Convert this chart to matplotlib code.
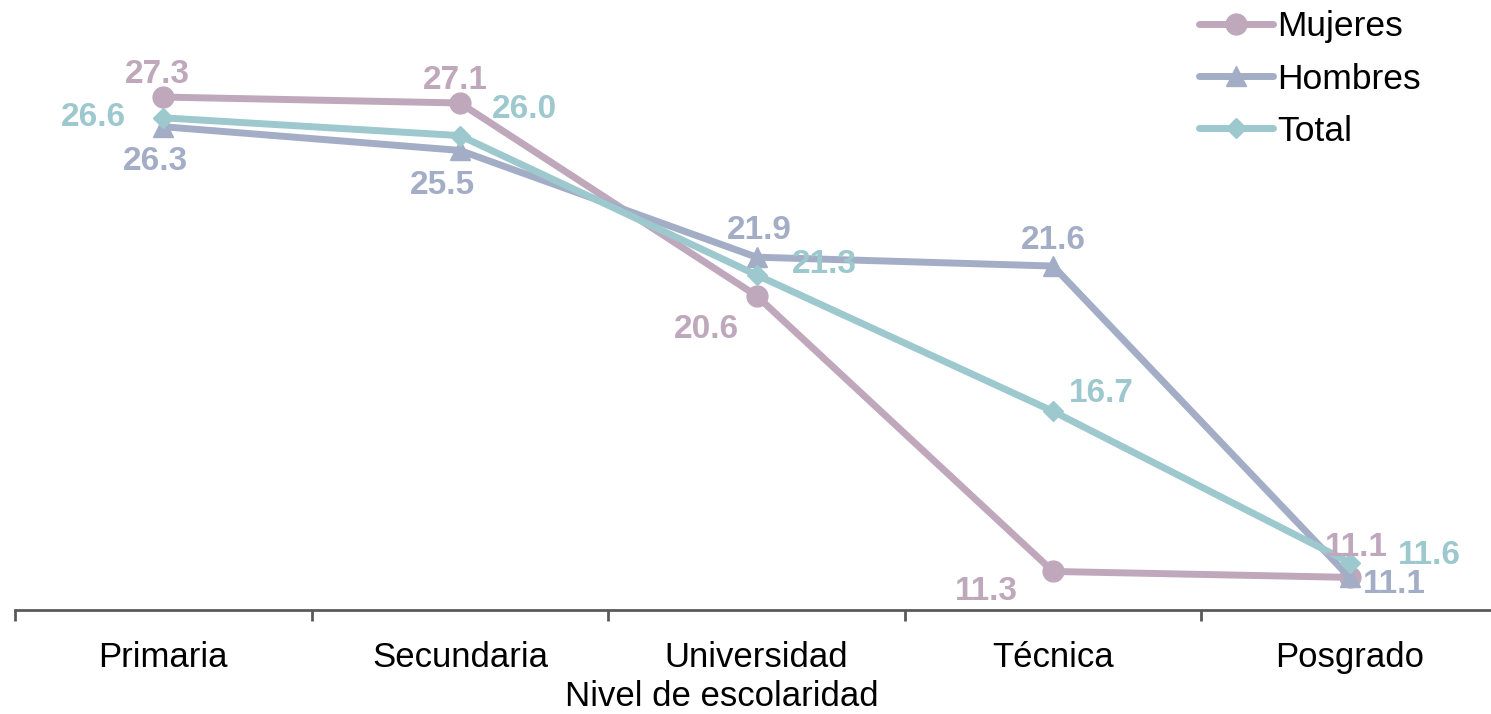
import matplotlib
matplotlib.use('Agg')
import matplotlib.pyplot as plt

plt.rcParams['font.family'] = ['Liberation Sans', 'DejaVu Sans']

niveles = ['Primaria', 'Secundaria', 'Universidad', 'Técnica', 'Posgrado']
mujeres = [27.3, 27.1, 20.6, 11.3, 11.1]
hombres = [26.3, 25.5, 21.9, 21.6, 11.1]
total = [26.6, 26.0, 21.3, 16.7, 11.6]

c_muj = '#bfa8bc'
c_hom = '#a3aec6'
c_tot = '#9dc8ce'

# label offsets in pixels (dx, dy)
off_muj = [(-6, 23), (-5, 22), (-50, -34), (-67, -20), (7, 30)]
off_hom = [(-8, -35), (-17, -35), (3, 27), (0, 26), (45, -7)]
off_tot = [(-70, 0), (65, 26), (68, 10), (48, 18), (80, 7)]

fig = plt.figure(figsize=(14.91, 7.14), dpi=100)
ax = fig.add_axes([15 / 1491, 104 / 714, 1483 / 1491, 593 / 714])

x = list(range(len(niveles)))
series = [
    ('Mujeres', mujeres, c_muj, 'o', 15, off_muj),
    ('Hombres', hombres, c_hom, '^', 14, off_hom),
    ('Total', total, c_tot, 'D', 10, off_tot),
]
for name, vals, col, mk, ms, offs in series:
    ax.plot(x, vals, color=col, lw=5, marker=mk, ms=ms, label=name,
            solid_capstyle='round')
for name, vals, col, mk, ms, offs in series:
    for xi, v, (dx, dy) in zip(x, vals, offs):
        ax.annotate('%.1f' % v, (xi, v), xytext=(dx, dy), textcoords='offset pixels',
                    ha='center', va='center', fontsize=24, fontweight='bold', color=col)

ax.set_xlim(-0.5, 4.5)
ax.set_ylim(10, 30)
ax.set_yticks([])
for s in ['top', 'right', 'left']:
    ax.spines[s].set_visible(False)
ax.spines['bottom'].set_color('#595959')
ax.spines['bottom'].set_linewidth(2)
ax.set_xticks(x)
ax.set_xticklabels(niveles, fontsize=25)
ax.tick_params(axis='x', which='major', length=0, pad=22)
ax.set_xticks([-0.5, 0.5, 1.5, 2.5, 3.5, 4.5], minor=True)
ax.tick_params(axis='x', which='minor', length=8, width=2, color='#595959')
ax.set_xlabel('Nivel de escolaridad', fontsize=25)
ax.xaxis.set_label_coords((722 - 15) / 1483, -0.118)

fig.legend(loc='upper left', bbox_to_anchor=(1167 / 1491, 1.03), frameon=False,
           fontsize=25.5, handlelength=2.1, handletextpad=0.12, labelspacing=0.54)

fig.savefig('out.png', dpi=100)
